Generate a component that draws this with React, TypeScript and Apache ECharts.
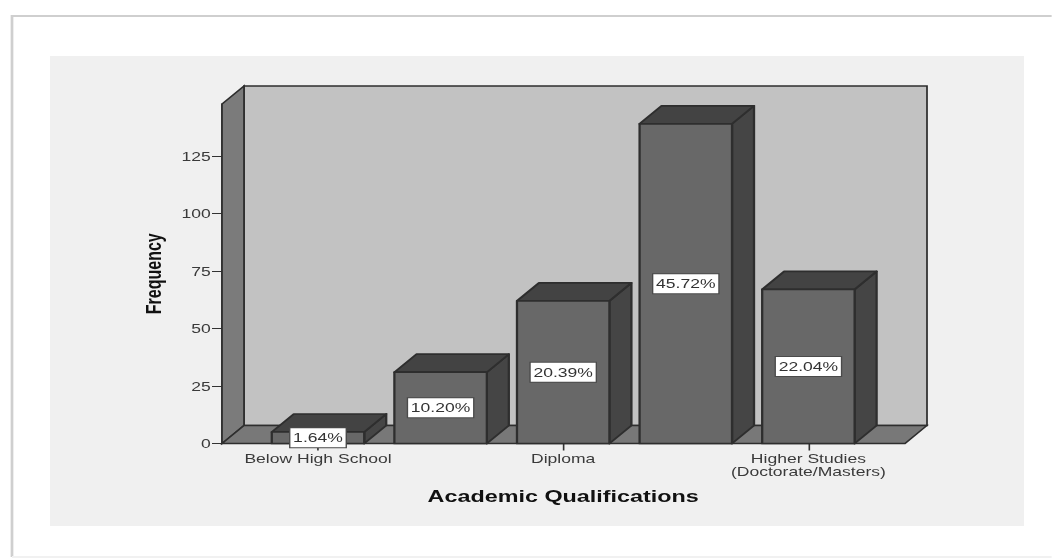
import React, { useEffect, useRef } from "react";
import * as echarts from "echarts";

// Data
const categories = ["Below High School", "", "Diploma", "", "Higher Studies\n(Doctorate/Masters)"];
const frequencies = [5, 31, 62, 139, 67];
const percentLabels = ["1.64%", "10.20%", "20.39%", "45.72%", "22.04%"];
const yTicks = [0, 25, 50, 75, 100, 125];
const xTitle = "Academic Qualifications";
const yTitle = "Frequency";

// The reference is a horizontally stretched image; the chart is laid out at
// 1052 / STRETCH wide and stretched the same way, text included.
const STRETCH = 1.35;
const W = 1052 / STRETCH;
const H = 559;
const px = (x: number) => x / STRETCH;

const GRID_LEFT = px(256.7);
const GRID_WIDTH = px(613);
const GRID_TOP = 104;
const GRID_BOTTOM = H - 443.5;
const SIDE_PAD_L = px(34.7);
const SIDE_PAD_R = px(35.3);
const DX = px(22);
const DY = 18;
const Y_MAX = 147.6;
const BAR_RATIO = 0.754;
const EDGE = "#2e2e2e";

function renderFrame(params: any) {
  const c = params.coordSys;
  const xL = c.x - SIDE_PAD_L;
  const xR = c.x + c.width + SIDE_PAD_R;
  const yT = c.y;
  const yB = c.y + c.height;
  const line = { stroke: EDGE, lineWidth: 1.3 };
  return {
    type: "group",
    children: [
      {
        type: "polygon",
        shape: { points: [[xL + DX, yT - DY], [xR + DX, yT - DY], [xR + DX, yB - DY], [xL + DX, yB - DY]] },
        style: { fill: "#c2c2c2", ...line },
      },
      {
        type: "polygon",
        shape: { points: [[xL, yB], [xL, yT], [xL + DX, yT - DY], [xL + DX, yB - DY]] },
        style: { fill: "#7b7b7b", ...line },
      },
      {
        type: "polygon",
        shape: { points: [[xL, yB], [xR, yB], [xR + DX, yB - DY], [xL + DX, yB - DY]] },
        style: { fill: "#787878", ...line },
      },
    ],
  };
}

function renderBar(params: any, api: any) {
  const base = api.coord([api.value(0), 0]);
  const top = api.coord([api.value(0), api.value(1)]);
  const w = api.size([1, 0])[0] * BAR_RATIO;
  const x0 = base[0] - w / 2;
  const x1 = base[0] + w / 2;
  const yT = top[1];
  const yB = base[1];
  const line = { stroke: EDGE, lineWidth: 1.7, lineJoin: "round" };
  return {
    type: "group",
    children: [
      {
        type: "polygon",
        shape: { points: [[x1, yB], [x1, yT], [x1 + DX, yT - DY], [x1 + DX, yB - DY]] },
        style: { fill: "#454545", ...line },
      },
      {
        type: "polygon",
        shape: { points: [[x0, yT], [x1, yT], [x1 + DX, yT - DY], [x0 + DX, yT - DY]] },
        style: { fill: "#434343", ...line },
      },
      {
        type: "polygon",
        shape: { points: [[x0, yB], [x1, yB], [x1, yT], [x0, yT]] },
        style: { fill: "#686868", ...line },
      },
      {
        type: "text",
        x: base[0],
        y: (yT + yB) / 2,
        style: {
          text: percentLabels[params.dataIndex],
          fontFamily: "Liberation Sans",
          fontSize: 13,
          fill: "#333333",
          align: "center",
          verticalAlign: "middle",
          backgroundColor: "#ffffff",
          borderColor: "#4a4a4a",
          borderWidth: 1,
          padding: [3, 2, 3, 2],
        },
      },
    ],
  };
}

export default function App() {
  const ref = useRef<HTMLDivElement>(null);
  useEffect(() => {
    if (!ref.current) return;
    const chart = echarts.init(ref.current, undefined, { renderer: "svg" });
    chart.setOption({
      animation: false,
      backgroundColor: "#ffffff",
      textStyle: { fontFamily: "Liberation Sans" },
      graphic: [
        {
          type: "polyline",
          z: -20,
          silent: true,
          shape: { points: [[px(12), 557], [px(12), 16], [W, 16]] },
          style: { fill: "none", stroke: "#cfcfcf", lineWidth: 2 },
        },
        {
          type: "line",
          z: -20,
          silent: true,
          shape: { x1: px(12), y1: 557, x2: W, y2: 557 },
          style: { stroke: "#f1f1f1", lineWidth: 2 },
        },
        {
          type: "rect",
          z: -10,
          silent: true,
          shape: { x: px(50), y: 56, width: px(974), height: 470 },
          style: { fill: "#f0f0f0" },
        },
      ],
      grid: { left: GRID_LEFT, width: GRID_WIDTH, top: GRID_TOP, bottom: GRID_BOTTOM },
      xAxis: {
        type: "category",
        data: categories,
        boundaryGap: true,
        axisLine: { show: false },
        axisTick: { show: true, interval: 1, alignWithLabel: true, length: 7, lineStyle: { color: "#333333", width: 1.2 } },
        axisLabel: { interval: 1, margin: 8.5, color: "#3a3a3a", fontSize: 13, lineHeight: 13, fontFamily: "Liberation Sans" },
        name: xTitle,
        nameLocation: "middle",
        nameGap: 44,
        nameTextStyle: { color: "#111111", fontWeight: "bold", fontSize: 17.3, fontFamily: "Liberation Sans" },
      },
      yAxis: {
        type: "value",
        min: 0,
        max: Y_MAX,
        interval: 25,
        offset: SIDE_PAD_L,
        splitLine: { show: false },
        axisLine: { show: true, lineStyle: { color: EDGE, width: 1.3 } },
        axisTick: { show: true, length: 7.4, customValues: yTicks, lineStyle: { color: "#333333", width: 1.2 } },
        axisLabel: { customValues: yTicks, margin: 8.4, color: "#3a3a3a", fontSize: 13, fontFamily: "Liberation Sans" },
        name: yTitle,
        nameLocation: "middle",
        nameGap: 43,
        nameTextStyle: { color: "#111111", fontWeight: "bold", fontSize: 16, fontFamily: "Liberation Sans" },
      },
      series: [
        {
          type: "custom",
          z: 1,
          silent: true,
          renderItem: renderFrame,
          data: [[0, 0]],
          encode: { x: 0, y: 1 },
        },
        {
          type: "custom",
          z: 3,
          silent: true,
          renderItem: renderBar,
          data: frequencies.map((v, i) => [i, v]),
          encode: { x: 0, y: 1 },
        },
      ],
    });
    return () => chart.dispose();
  }, []);
  return (
    <div
      ref={ref}
      style={{
        position: "absolute",
        left: 0,
        top: 0,
        width: W,
        height: H,
        transform: `scaleX(${STRETCH})`,
        transformOrigin: "0 0",
        filter: "blur(0.5px)",
      }}
    />
  );
}
